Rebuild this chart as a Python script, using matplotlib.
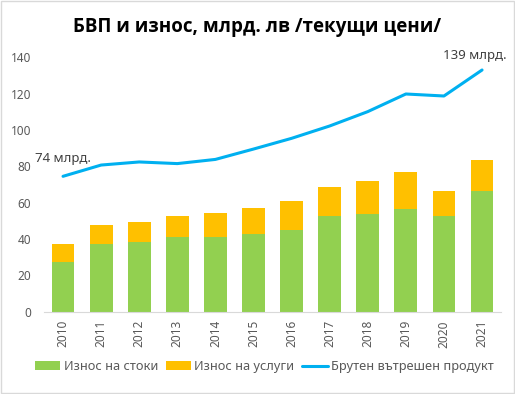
import matplotlib
matplotlib.use("Agg")
import matplotlib.pyplot as plt
from matplotlib.patches import Rectangle
import numpy as np

plt.rcParams['font.family'] = ['Noto Sans', 'DejaVu Sans']

years = ["2010", "2011", "2012", "2013", "2014", "2015", "2016", "2017", "2018", "2019", "2020", "2021"]
goods = [27.5, 37.3, 38.5, 41.1, 41.1, 42.9, 45.0, 52.8, 53.9, 56.5, 52.8, 66.4]
services = [9.8, 10.4, 10.9, 11.6, 13.2, 14.2, 15.9, 16.0, 18.0, 20.4, 13.6, 17.1]
gdp = [74.5, 80.7, 82.4, 81.5, 83.8, 89.5, 95.4, 102.2, 110.1, 119.8, 118.7, 133.0]
title = "БВП и износ, млрд. лв /текущи цени/"
labels = ["Износ на стоки", "Износ на услуги", "Брутен вътрешен продукт"]
ann_first = "74 млрд."
ann_last = "139 млрд."

green = "#92D050"
yellow = "#FFC000"
blue = "#00B0F0"
tick_col = "#595959"

fig = plt.figure(figsize=(5.15, 3.94), dpi=100)
fig.patches.append(Rectangle((0.002, 0.002), 0.996, 0.996, transform=fig.transFigure,
                             fill=False, edgecolor="#D9D9D9", linewidth=1.0))
ax = fig.add_axes([0.0854, 0.2089, 0.8876, 0.6457])

x = np.arange(len(years))
b1 = ax.bar(x, goods, width=0.6, color=green, label=labels[0], zorder=2)
b2 = ax.bar(x, services, width=0.6, bottom=goods, color=yellow, label=labels[1], zorder=2)
l1, = ax.plot(x, gdp, color=blue, linewidth=2.2, label=labels[2], zorder=3,
              solid_capstyle='round')

ax.set_xlim(-0.5, len(years) - 0.5)
ax.set_ylim(0, 140)
ax.set_yticks(np.arange(0, 141, 20))
ax.set_xticks(x)
ax.set_xticklabels(years, rotation=90)
ax.tick_params(axis='both', length=0, colors=tick_col, labelsize=8.5)
ax.tick_params(axis='x', pad=6)
ax.tick_params(axis='y', pad=9)
for s in ['top', 'right', 'left']:
    ax.spines[s].set_visible(False)
ax.spines['bottom'].set_color("#D9D9D9")

ax.annotate(ann_first, xy=(x[0], gdp[0]), xytext=(-20, 13), textcoords='offset points',
            fontsize=9.5, color="#404040", ha='left', va='center')
ax.annotate(ann_last, xy=(x[-1], gdp[-1]), xytext=(-28, 10.5), textcoords='offset points',
            fontsize=9.5, color="#404040", ha='left', va='center')

fig.text(0.5, 0.931, title, ha='center', va='center', fontsize=13.5,
         fontweight='bold', family=['Open Sans', 'DejaVu Sans'])

fig.legend(handles=[b1, b2, l1], labels=labels, loc='center', bbox_to_anchor=(0.513, 0.069),
           ncol=3, frameon=False, fontsize=9.2, handlelength=2.0, handletextpad=0.25,
           columnspacing=0.6, labelcolor=tick_col)

fig.savefig("out.png", dpi=100)
